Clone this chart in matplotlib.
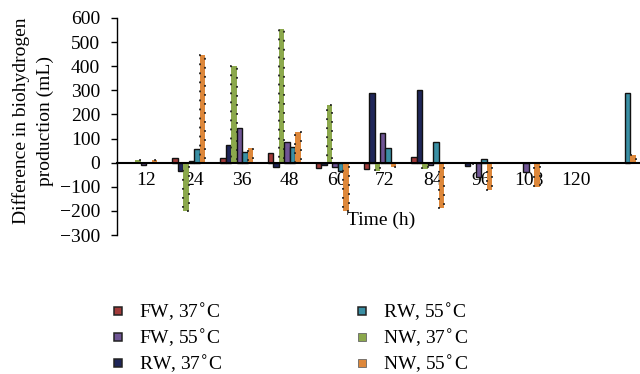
import matplotlib
matplotlib.use("Agg")
import matplotlib.pyplot as plt
from matplotlib.lines import Line2D
import numpy as np

plt.rcParams['font.family'] = ['Liberation Serif', 'DejaVu Serif']

categories = ["12", "24", "36", "48", "60", "72", "84", "96", "108", "120", ""]
fw37 = [0, 20, 20, 40, -22, -28, 22, 0, 0, 0, 0]
rw37 = [0, -35, 72, -20, -10, 290, 303, -13, 0, 0, 0]
nw37 = [10, -200, 400, 555, 240, -34, -28, -5, 0, 0, 0]
fw55 = [-10, 5, 144, 87, -17, 122, -8, -60, -40, 0, 0]
rw55 = [0, 56, 45, 67, -35, 62, 87, 14, 0, 0, 290]
nw55 = [10, 447, 62, 127, -200, -20, -188, -115, -100, 0, 30]

series = [
    ("FW, 37$^{\\circ}$C", fw37, "#A23B3A", False),
    ("RW, 37$^{\\circ}$C", rw37, "#1F2659", False),
    ("NW, 37$^{\\circ}$C", nw37, "#8BA84C", True),
    ("FW, 55$^{\\circ}$C", fw55, "#6F5595", False),
    ("RW, 55$^{\\circ}$C", rw55, "#3A8FA4", False),
    ("NW, 55$^{\\circ}$C", nw55, "#DD873A", True),
]

fig = plt.figure(figsize=(6.4, 3.74), dpi=100)
ax = fig.add_axes([117/640, 1-235/374, (643-117)/640, (235-18)/374])

x = np.arange(len(categories))
w = 0.115
handles = {}
for i, (name, vals, col, dotted) in enumerate(series):
    off = (i - 2.5) * w
    v = np.array(vals, dtype=float)
    v[v == 0] = np.nan
    if dotted:
        ax.bar(x + off, v, width=w, color=col, edgecolor='#222222',
               linewidth=1.3, linestyle=(0, (1, 4)), zorder=3)
        h = Line2D([], [], linestyle='none', marker='s', markersize=6,
                   markerfacecolor=col, markeredgecolor='#666666', markeredgewidth=0.6)
    else:
        ax.bar(x + off, v, width=w, color=col, edgecolor='#111111',
               linewidth=1.0, zorder=3)
        h = Line2D([], [], linestyle='none', marker='s', markersize=6,
                   markerfacecolor=col, markeredgecolor='#222222', markeredgewidth=1.1)
    handles[name] = h

ax.set_xlim(-0.5, 10.5)
ax.set_ylim(-300, 600)
ax.set_yticks(np.arange(-300, 601, 100))
ax.set_yticklabels([str(v).replace('-', '\u2212') for v in range(-300, 601, 100)])
ax.set_xticks(x + 5/47.8)
ax.set_xticklabels(categories)
ax.tick_params(axis='x', length=0, pad=7, labelsize=14)
ax.tick_params(axis='y', length=4, width=1, direction='out', pad=8, labelsize=14)

for s in ['top', 'right']:
    ax.spines[s].set_visible(False)
ax.spines['bottom'].set_position(('data', 0))
ax.spines['bottom'].set_linewidth(1.5)
ax.spines['bottom'].set_zorder(4)
ax.spines['left'].set_linewidth(1.0)

fig.text(381/640, 1-220/374, "Time (h)", ha='center', va='center', fontsize=14)
fig.text(33/640, 1-121/374, "Difference in biohydrogen\nproduction (mL)", ha='center',
         va='center', rotation=90, fontsize=14, multialignment='center', linespacing=1.5)

names = [s[0] for s in series]
col1 = [names[0], names[3], names[1]]
col2 = [names[4], names[2], names[5]]
kw = dict(frameon=False, fontsize=14, handlelength=0.5, handletextpad=0.85,
          labelspacing=0.2, borderpad=0, borderaxespad=0, loc='center left')
leg1 = fig.legend([handles[n] for n in col1], col1, bbox_to_anchor=(113/640, 1-338/374), **kw)
leg2 = fig.legend([handles[n] for n in col2], col2, bbox_to_anchor=(357/640, 1-338/374), **kw)

fig.savefig("out.png", dpi=100)
